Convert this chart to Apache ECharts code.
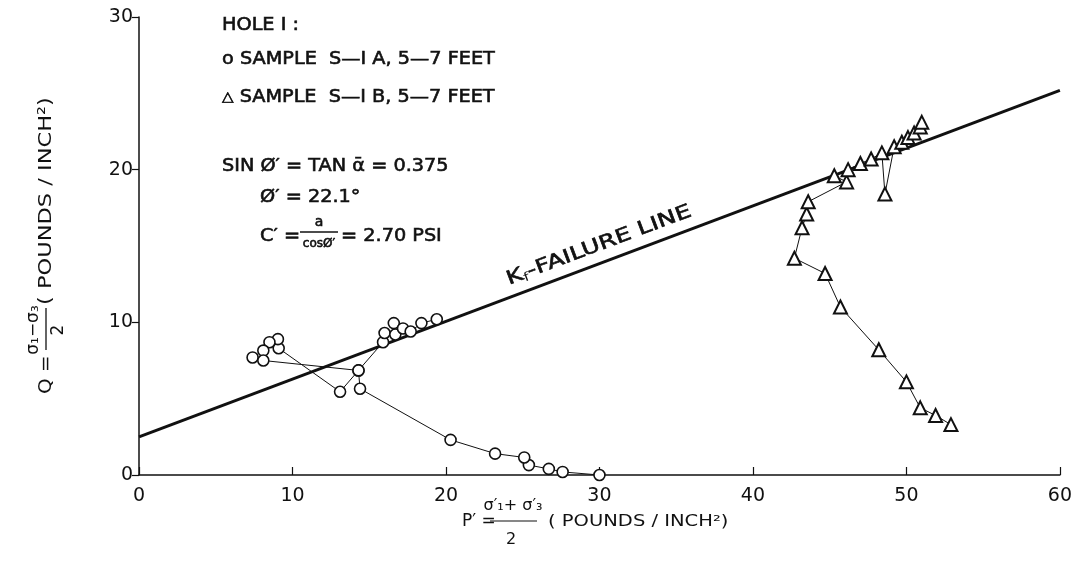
<!DOCTYPE html>
<html><head><meta charset="utf-8">
<script src="https://cdn.jsdelivr.net/npm/echarts@6/dist/echarts.min.js"></script>
<style>html,body{margin:0;padding:0;background:#fff}#c{width:1075px;height:566px}</style>
</head><body><div id="c"></div>
<script>
// ---- data ----
const xTicks = [0, 10, 20, 30, 40, 50, 60];
const yTicks = [0, 10, 20, 30];
// Sample S-1A (circles): P' and Q along the stress path
const sampleA_P = [30.0, 27.6, 26.7, 25.4, 25.1, 23.2, 20.3, 14.4, 14.3, 13.1, 9.1, 9.05, 8.5, 8.1, 7.4, 8.1, 14.3, 15.9, 16.0, 16.7, 16.6, 17.2, 17.7, 18.4, 19.4];
const sampleA_Q = [0.0, 0.2, 0.4, 0.65, 1.15, 1.4, 2.3, 5.65, 6.85, 5.45, 8.3, 8.9, 8.7, 8.15, 7.7, 7.5, 6.85, 8.7, 9.3, 9.2, 9.95, 9.6, 9.4, 9.95, 10.2];
// Sample S-1B (triangles)
const sampleB_P = [52.9, 51.9, 50.9, 50.0, 48.2, 45.7, 44.7, 42.7, 43.2, 43.5, 43.6, 46.1, 45.3, 46.2, 47.0, 47.7, 48.4, 48.6, 49.2, 49.7, 50.1, 50.5, 50.9, 51.0];
const sampleB_Q = [3.3, 3.9, 4.4, 6.1, 8.2, 11.0, 13.2, 14.2, 16.2, 17.1, 17.9, 19.2, 19.6, 20.0, 20.4, 20.7, 21.1, 18.4, 21.5, 21.8, 22.1, 22.4, 22.8, 23.1];
// Kf failure line end points
const failureP = [0, 60];
const failureQ = [2.5, 25.2];

const FONT = "'DejaVu Sans', sans-serif";
const INK = '#111';
const zip = (a, b) => a.map((v, i) => [v, b[i]]);

const chart = echarts.init(document.getElementById('c'), null, {renderer: 'canvas'});

function txt(x, y, text, size, sx, align, heavy) {
  const st = {text: text, font: size + 'px ' + FONT, fill: INK, textAlign: align || 'left', textVerticalAlign: 'middle', verticalAlign: 'middle'};
  if (heavy) { st.stroke = INK; st.lineWidth = 0.6; }
  return {type: 'text', x: x, y: y, scaleX: sx || 1, style: st};
}

chart.setOption({
  backgroundColor: '#fff',
  animation: false,
  grid: {left: 139, right: 13, top: 17, bottom: 91},
  xAxis: {
    type: 'value', min: xTicks[0], max: xTicks[xTicks.length - 1], interval: 10,
    axisLine: {lineStyle: {color: INK, width: 1.5}},
    axisTick: {inside: true, length: 8, lineStyle: {color: INK, width: 1.2}},
    splitLine: {show: false},
    axisLabel: {color: INK, fontSize: 19, fontFamily: FONT, margin: 12}
  },
  yAxis: {
    type: 'value', min: yTicks[0], max: yTicks[yTicks.length - 1], interval: 10,
    axisLine: {show: true, lineStyle: {color: INK, width: 1.5}},
    axisTick: {show: true, inside: false, length: 7, lineStyle: {color: INK, width: 1.2}},
    splitLine: {show: false},
    axisLabel: {color: INK, fontSize: 19, fontFamily: FONT, margin: 6}
  },
  series: [
    {
      type: 'line', data: zip(failureP, failureQ), symbol: 'none',
      lineStyle: {color: INK, width: 3}, z: 2
    },
    {
      type: 'line', data: zip(sampleA_P, sampleA_Q), symbol: 'circle', symbolSize: 11,
      itemStyle: {color: '#fff', borderColor: INK, borderWidth: 1.6},
      lineStyle: {color: INK, width: 1}, z: 3
    },
    {
      type: 'line', data: zip(sampleB_P, sampleB_Q), symbol: 'triangle', symbolSize: 13,
      itemStyle: {color: '#fff', borderColor: INK, borderWidth: 2},
      lineStyle: {color: INK, width: 1}, z: 3
    }
  ]
});

// failure-line label placed along the line
const pA = chart.convertToPixel({gridIndex: 0}, [failureP[0], failureQ[0]]);
const pB = chart.convertToPixel({gridIndex: 0}, [failureP[1], failureQ[1]]);
const ang = Math.atan2(pA[1] - pB[1], pB[0] - pA[0]);
const frac = (605 - pA[0]) / (pB[0] - pA[0]);
const lx = pA[0] + frac * (pB[0] - pA[0]);
const ly = pA[1] + frac * (pB[1] - pA[1]);
const off = 17;
const labX = lx - off * Math.sin(ang);
const labY = ly - off * Math.cos(ang);

const SX = 1.07;
chart.setOption({
  graphic: [
    txt(222, 25, 'HOLE I :', 18, SX, 'left', true),
    {
      type: 'text', x: 222, y: 59, scaleX: SX,
      style: {text: '{c|o} SAMPLE  S—I A, 5—7 FEET', font: '18px ' + FONT, fill: INK, stroke: INK, lineWidth: 0.6, verticalAlign: 'middle', textVerticalAlign: 'middle',
        rich: {c: {font: '18px ' + FONT, fill: INK}}}
    },
    {
      type: 'text', x: 222, y: 97, scaleX: SX,
      style: {text: '{c|△} SAMPLE  S—I B, 5—7 FEET', font: '18px ' + FONT, fill: INK, stroke: INK, lineWidth: 0.6, verticalAlign: 'middle', textVerticalAlign: 'middle',
        rich: {c: {font: '14px ' + FONT, fill: INK}}}
    },
    txt(222, 166, 'SIN Ø′ = TAN ᾱ = 0.375', 18, SX, 'left', true),
    txt(260, 197, 'Ø′ = 22.1°', 18, SX, 'left', true),
    txt(260, 236, 'C′ =', 18, SX, 'left', true),
    txt(319, 222, 'a', 14, 1, 'center', true),
    {type: 'line', shape: {x1: 300, y1: 232, x2: 338, y2: 232}, style: {stroke: INK, lineWidth: 1.5}},
    txt(319, 244, 'cosØ′', 12, 1, 'center', true),
    txt(341, 236, '= 2.70 PSI', 18, SX, 'left', true),
    // Kf failure line label
    {
      type: 'text', x: labX, y: labY, rotation: ang, scaleX: 1.32,
      style: {
        text: '{k|K}{s|f}{k|-FAILURE LINE}', textAlign: 'center', textVerticalAlign: 'middle', verticalAlign: 'middle',
        rich: {k: {font: '19px ' + FONT, fill: INK, stroke: INK, lineWidth: 0.6}, s: {font: '12px ' + FONT, fill: INK, verticalAlign: 'bottom', padding: [9, 0, 0, 0]}}
      }
    },
    // y axis name (rotated group, reads bottom to top)
    {
      type: 'group', x: 46, y: 394, rotation: Math.PI / 2,
      children: [
        txt(0, 0, 'Q =', 18, 1.1),
        txt(64, -12, 'σ₁−σ₃', 17, 1, 'center'),
        {type: 'line', shape: {x1: 44, y1: 0, x2: 86, y2: 0}, style: {stroke: INK, lineWidth: 1.3}},
        txt(64, 13, '2', 17, 1, 'center'),
        txt(89, 0, '( POUNDS / INCH²)', 18, 1.25)
      ]
    },
    // x axis name
    txt(462, 522, 'P′ =', 17, 1),
    txt(513, 506, 'σ′₁+ σ′₃', 16, 1, 'center'),
    {type: 'line', shape: {x1: 490, y1: 521, x2: 537, y2: 521}, style: {stroke: INK, lineWidth: 1.2}},
    txt(511, 540, '2', 16, 1, 'center'),
    txt(548, 522, '( POUNDS / INCH²)', 16, 1.22)
  ]
});
</script></body></html>
